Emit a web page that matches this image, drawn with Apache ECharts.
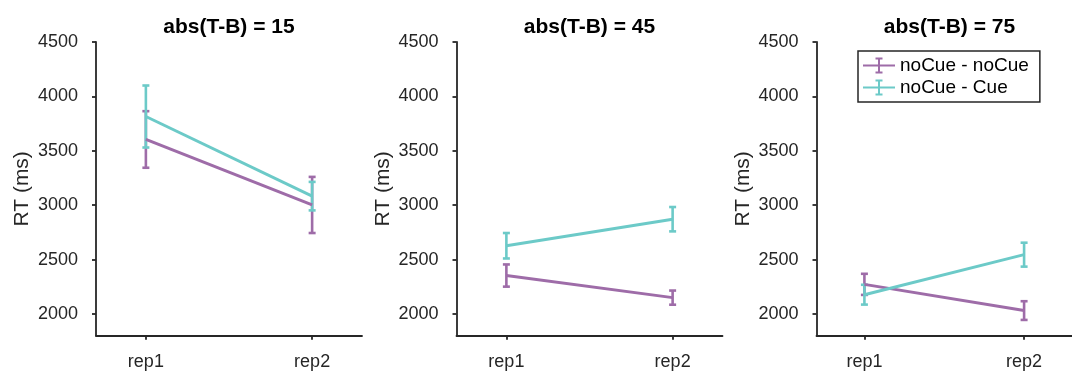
<!DOCTYPE html>
<html>
<head>
<meta charset="utf-8">
<style>
  html, body { margin: 0; padding: 0; background: #ffffff; }
  #chart { width: 1072px; height: 371px; }
</style>
<script src="https://cdn.jsdelivr.net/npm/echarts@6/dist/echarts.min.js"></script>
</head>
<body>
<div id="chart"></div>
<script>
// Condition labels and panel titles
const categories = ['rep1', 'rep2'];
const panelTitles = ['abs(T-B) = 15', 'abs(T-B) = 45', 'abs(T-B) = 75'];
const seriesNames = ['noCue - noCue', 'noCue - Cue'];

// Mean RT (ms) per panel: [rep1, rep2]
const noCueNoCueMean = [[3604, 3002], [2353, 2150], [2272, 2031]];
const noCueCueMean   = [[3815, 3083], [2627, 2871], [2177, 2545]];

// Error bar half-lengths (ms) per panel: [rep1, rep2]
const noCueNoCueErr = [[260, 258], [102, 65], [97, 86]];
const noCueCueErr   = [[285, 131], [117, 112], [91, 110]];

// Y axis ticks
const yTicks = [2000, 2500, 3000, 3500, 4000, 4500];

const colors = ['#9E6CA8', '#6CCAC8'];
const axisColor = '#262626';
const font = 'Liberation Sans, Arial, Helvetica, sans-serif';

const panelLeft = [96, 456.5, 816.5];
const panelWidth = 266;
const panelTop = 42;
const panelHeight = 293.7;

const chart = echarts.init(document.getElementById('chart'), null, { renderer: 'canvas' });

function errorBarRenderer(color) {
  return function (params, api) {
    const x = api.value(0);
    const lo = api.value(1);
    const hi = api.value(2);
    const top = api.coord([x, hi]);
    const bot = api.coord([x, lo]);
    const hw = 3.5;
    const st = { stroke: color, lineWidth: 2.6 };
    return {
      type: 'group',
      children: [
        { type: 'line', shape: { x1: top[0], y1: top[1], x2: bot[0], y2: bot[1] }, style: st },
        { type: 'line', shape: { x1: top[0] - hw, y1: top[1], x2: top[0] + hw, y2: top[1] }, style: st },
        { type: 'line', shape: { x1: bot[0] - hw, y1: bot[1], x2: bot[0] + hw, y2: bot[1] }, style: st }
      ]
    };
  };
}

const grids = [], xAxes = [], yAxes = [], titles = [], series = [];

panelTitles.forEach((t, i) => {
  grids.push({ left: panelLeft[i], top: panelTop, width: panelWidth, height: panelHeight, containLabel: false });
  titles.push({
    text: t,
    left: panelLeft[i] + panelWidth / 2,
    top: 17,
    textAlign: 'center',
    padding: 0,
    textStyle: { fontFamily: font, fontSize: 21, fontWeight: 'bold', color: '#000000' }
  });
  xAxes.push({
    type: 'value',
    gridIndex: i,
    min: 0.7,
    max: 2.3,
    splitLine: { show: false },
    axisLine: { show: true, onZero: false, lineStyle: { color: axisColor, width: 1.8 } },
    axisTick: { show: true, inside: false, length: 4, customValues: [1, 2], lineStyle: { color: axisColor, width: 1.8 } },
    axisLabel: {
      customValues: [1, 2],
      margin: 17,
      fontFamily: font, fontSize: 18, color: axisColor,
      formatter: v => categories[Math.round(v) - 1]
    }
  });
  yAxes.push({
    type: 'value',
    gridIndex: i,
    min: 1800,
    max: 4500,
    name: 'RT (ms)',
    nameLocation: 'middle',
    nameGap: 63,
    nameTextStyle: { fontFamily: font, fontSize: 21, color: axisColor },
    splitLine: { show: false },
    axisLine: { show: true, lineStyle: { color: axisColor, width: 1.8 } },
    axisTick: { show: true, inside: false, length: 4, customValues: yTicks, lineStyle: { color: axisColor, width: 1.8 } },
    axisLabel: {
      customValues: yTicks,
      margin: 18,
      fontFamily: font, fontSize: 18, color: axisColor,
      formatter: v => String(v)
    }
  });

  const groups = [
    { name: seriesNames[0], mean: noCueNoCueMean[i], err: noCueNoCueErr[i], color: colors[0] },
    { name: seriesNames[1], mean: noCueCueMean[i], err: noCueCueErr[i], color: colors[1] }
  ];
  groups.forEach(g => {
    series.push({
      name: g.name,
      type: 'line',
      xAxisIndex: i,
      yAxisIndex: i,
      data: g.mean.map((m, k) => [k + 1, m]),
      showSymbol: false,
      symbol: 'none',
      lineStyle: { color: g.color, width: 3 },
      itemStyle: { color: g.color },
      emphasis: { disabled: true },
      silent: true
    });
    series.push({
      name: g.name,
      type: 'custom',
      xAxisIndex: i,
      yAxisIndex: i,
      data: g.mean.map((m, k) => [k + 1, m - g.err[k], m + g.err[k]]),
      encode: { x: 0, y: [1, 2] },
      renderItem: errorBarRenderer(g.color),
      itemStyle: { color: g.color },
      silent: true
    });
  });
});

// Legend glyph: a line with a small capped error bar
const legendIcon = 'path://M0,7h32v2h-32z M15,1h2v14h-2z M12.5,0h7v2h-7z M12.5,14h7v2h-7z';

const option = {
  backgroundColor: '#ffffff',
  animation: false,
  title: titles,
  grid: grids,
  xAxis: xAxes,
  yAxis: yAxes,
  legend: {
    orient: 'vertical',
    left: 858,
    top: 51,
    padding: [5, 11, 5, 5],
    itemWidth: 32,
    itemHeight: 16,
    itemGap: 3,
    backgroundColor: '#ffffff',
    borderColor: axisColor,
    borderWidth: 1.5,
    borderRadius: 0,
    selectedMode: false,
    textStyle: { fontFamily: font, fontSize: 19, color: '#000000', padding: [0, 0, 0, 0] },
    data: seriesNames.map(n => ({ name: n, icon: legendIcon }))
  },
  series: series
};

chart.setOption(option);
</script>
</body>
</html>
